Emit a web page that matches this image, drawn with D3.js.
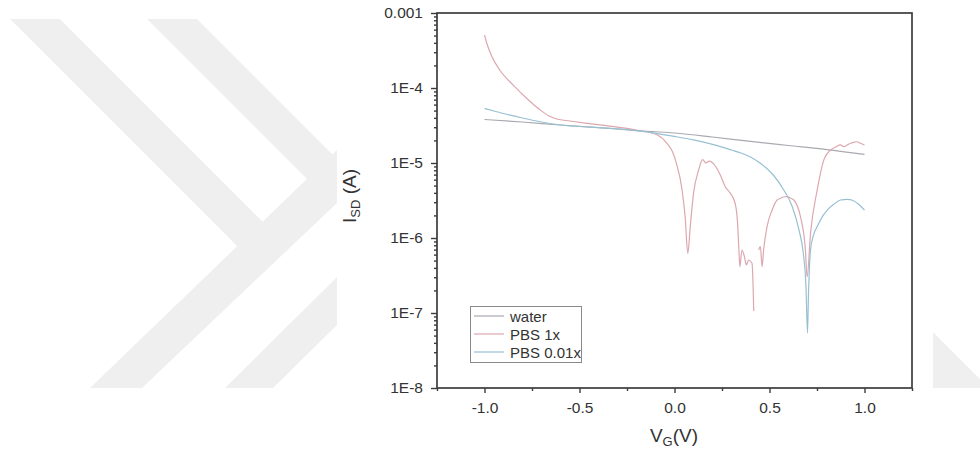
<!DOCTYPE html>
<html>
<head>
<meta charset="utf-8">
<script src="https://cdn.jsdelivr.net/npm/d3@7"></script>
<style>
  html, body { margin: 0; padding: 0; background: #fff; }
  svg { display: block; }
  text { font-family: "Liberation Sans", Arial, sans-serif; }
</style>
</head>
<body>
<svg id="chart" width="980" height="455"></svg>
<script>
// ---- data ----
const seriesNames = ["water", "PBS 1x", "PBS 0.01x"];

const waterV = [-1.0, -0.8, -0.6, -0.4, -0.2, 0.0, 0.2, 0.4, 0.6, 0.8, 1.0];
const waterI = [3.8e-5, 3.52e-5, 3.21e-5, 2.97e-5, 2.71e-5, 2.51e-5, 2.22e-5, 1.94e-5, 1.71e-5, 1.51e-5, 1.30e-5];

const pbs1xV = [-1.0, -0.985, -0.96, -0.92, -0.85, -0.78, -0.71, -0.66, -0.62, -0.55, -0.46, -0.34, -0.20, -0.09,
  -0.04, -0.01, 0.01, 0.04, 0.056, 0.07, 0.083, 0.10, 0.127, 0.148, 0.166, 0.183, 0.215, 0.241, 0.267, 0.294,
  0.32, 0.332, 0.339, 0.344, 0.355, 0.368, 0.378, 0.39, 0.408, 0.417, 0.43, 0.443, 0.452, 0.461, 0.469, 0.487,
  0.514, 0.54, 0.557, 0.573, 0.593, 0.61, 0.628, 0.663, 0.689, 0.698, 0.716, 0.751, 0.786, 0.821, 0.848, 0.874,
  0.891, 0.909, 0.936, 0.962, 0.979, 1.0];
const pbs1xI = [5.09e-4, 3.74e-4, 2.59e-4, 1.74e-4, 1.10e-4, 7.37e-5, 5.17e-5, 4.23e-5, 3.86e-5, 3.63e-5, 3.38e-5,
  3.11e-5, 2.75e-5, 2.36e-5, 1.83e-5, 1.40e-5, 9.9e-6, 4.36e-6, 1.92e-6, 6.25e-7, 1.42e-6, 3.94e-6, 8.07e-6,
  1.11e-5, 1.0e-5, 1.06e-5, 9.12e-6, 6.92e-6, 4.83e-6, 3.94e-6, 2.84e-6, 1.58e-6, 6.92e-7, 4.14e-7, 6.92e-7,
  5.64e-7, 4.37e-7, 5.09e-7, 4.6e-7, 1.06e-7, null, 6.92e-7, 7.66e-7, 4.14e-7, 6.92e-7, 1.42e-6, 2.36e-6,
  3.21e-6, 3.38e-6, 3.52e-6, 3.56e-6, 3.41e-6, 3.21e-6, 1.92e-6, 6.92e-7, 3.02e-7, 1.16e-6, 4.36e-6, 1.10e-5,
  1.49e-5, 1.63e-5, 1.74e-5, 1.65e-5, 1.74e-5, 1.87e-5, 1.92e-5, 1.83e-5, 1.74e-5];

const pbs001V = [-1.0, -0.95, -0.9, -0.8, -0.7, -0.6, -0.4, -0.2, 0.0, 0.1, 0.2, 0.3, 0.35, 0.4, 0.45, 0.52,
  0.575, 0.62, 0.655, 0.678, 0.692, 0.70, 0.705, 0.71, 0.716, 0.73, 0.751, 0.78, 0.804, 0.84, 0.874, 0.909,
  0.94, 0.962, 1.0];
const pbs001I = [5.33e-5, 4.94e-5, 4.57e-5, 3.98e-5, 3.52e-5, 3.21e-5, 2.97e-5, 2.70e-5, 2.26e-5, 2.03e-5, 1.77e-5,
  1.49e-5, 1.36e-5, 1.20e-5, 1.0e-5, 6.92e-6, 4.36e-6, 2.61e-6, 1.28e-6, 6.25e-7, 2.24e-7, 5.4e-8, 1.74e-7,
  3.98e-7, 6.92e-7, 1.06e-6, 1.42e-6, 1.96e-6, 2.36e-6, 2.84e-6, 3.21e-6, 3.28e-6, 3.16e-6, 2.90e-6, 2.36e-6];

const xTickValues = [-1.0, -0.5, 0.0, 0.5, 1.0];
const xTickLabels = ["-1.0", "-0.5", "0.0", "0.5", "1.0"];
const yTickValues = [1e-8, 1e-7, 1e-6, 1e-5, 1e-4, 1e-3];
const yTickLabels = ["1E-8", "1E-7", "1E-6", "1E-5", "1E-4", "0.001"];

// ---- layout / style ----
const colors = { "water": "#a9aab0", "PBS 1x": "#dca7ae", "PBS 0.01x": "#97c0d2" };
const M = { left: 437, right: 912, top: 13, bottom: 388 };
const frameColor = "#3c3c3c";

const svg = d3.select("#chart");

// background watermark (decoration)
const wm = svg.append("g").attr("fill", "#efefef");
const wmPolys = [
  [[10,19],[60,19],[270,229],[245,254]],
  [[90,388],[142,388],[337,203],[337,150]],
  [[147,19],[197,19],[337,159],[337,190],[318,190]],
  [[225,388],[273,388],[337,325],[337,277]],
  [[933,332],[980,379],[980,388],[933,388]]
];
wmPolys.forEach(p => wm.append("path").attr("d", d3.line()(p) + "Z"));

const x = d3.scaleLinear().domain([-1.25, 1.25]).range([M.left, M.right]);
const y = d3.scaleLog().domain([1e-8, 1e-3]).range([M.bottom, M.top]);

// minor ticks
const yMinor = [];
yTickValues.slice(0, -1).forEach(d => { for (let k = 2; k <= 9; k++) yMinor.push(d * k); });
const xMinor = [-1.25, -0.75, -0.25, 0.25, 0.75, 1.25];

const gx = svg.append("g").attr("transform", `translate(0,${M.bottom})`);
gx.call(d3.axisBottom(x).tickValues(xMinor).tickSize(3).tickFormat(""));
gx.call(g => g.select(".domain").remove());
const gx2 = svg.append("g").attr("transform", `translate(0,${M.bottom})`)
  .call(d3.axisBottom(x).tickValues(xTickValues).tickSize(5).tickPadding(9)
    .tickFormat((d, i) => xTickLabels[i]));
gx2.select(".domain").remove();

const gy = svg.append("g").attr("transform", `translate(${M.left},0)`);
gy.call(d3.axisLeft(y).tickValues(yMinor).tickSize(3).tickFormat(""));
gy.select(".domain").remove();
const gy2 = svg.append("g").attr("transform", `translate(${M.left},0)`)
  .call(d3.axisLeft(y).tickValues(yTickValues).tickSize(6).tickPadding(8)
    .tickFormat((d, i) => yTickLabels[i]));
gy2.select(".domain").remove();

svg.selectAll(".tick line").attr("stroke", frameColor).attr("stroke-width", 1.4);
svg.selectAll(".tick text").attr("font-size", 15.5).attr("fill", "#333")
  .attr("font-family", "'Liberation Sans', Arial, sans-serif");

// series lines
const series = [
  { name: "water", v: waterV, i: waterI },
  { name: "PBS 1x", v: pbs1xV, i: pbs1xI },
  { name: "PBS 0.01x", v: pbs001V, i: pbs001I }
];
const line = d3.line()
  .defined(d => d.i != null)
  .x(d => x(d.v)).y(d => y(d.i))
  .curve(d3.curveMonotoneX);

const plotG = svg.append("g");
series.forEach(s => {
  const pts = s.v.map((v, k) => ({ v: v, i: s.i[k] }));
  plotG.append("path").datum(pts)
    .attr("fill", "none")
    .attr("stroke", colors[s.name])
    .attr("stroke-width", 1.2)
    .attr("d", line);
});

// frame
svg.append("rect")
  .attr("x", M.left).attr("y", M.top)
  .attr("width", M.right - M.left).attr("height", M.bottom - M.top)
  .attr("fill", "none").attr("stroke", frameColor).attr("stroke-width", 1.7);

// legend
const lg = svg.append("g");
lg.append("rect").attr("x", 470.5).attr("y", 306.5).attr("width", 111).attr("height", 56)
  .attr("fill", "#fff").attr("stroke", "#8a8a8a").attr("stroke-width", 1);
seriesNames.forEach((n, k) => {
  const cy = 316 + k * 18;
  lg.append("line").attr("x1", 474).attr("x2", 504).attr("y1", cy).attr("y2", cy)
    .attr("stroke", colors[n]).attr("stroke-width", 1.2);
  lg.append("text").attr("x", 510).attr("y", cy + 5.5).attr("font-size", 15).attr("fill", "#333").text(n);
});

// axis titles
const xt = svg.append("text").attr("x", 674).attr("y", 442).attr("text-anchor", "middle")
  .attr("font-size", 19).attr("fill", "#333");
xt.append("tspan").text("V");
xt.append("tspan").attr("font-size", 13).attr("dy", 4).text("G");
xt.append("tspan").attr("dy", -4).text("(V)");

const yt = svg.append("text").attr("transform", "translate(356,196) rotate(-90)")
  .attr("text-anchor", "middle").attr("font-size", 19).attr("fill", "#333");
yt.append("tspan").text("I");
yt.append("tspan").attr("font-size", 13).attr("dy", 4).text("SD");
yt.append("tspan").attr("dy", -4).text(" (A)");
</script>
</body>
</html>
